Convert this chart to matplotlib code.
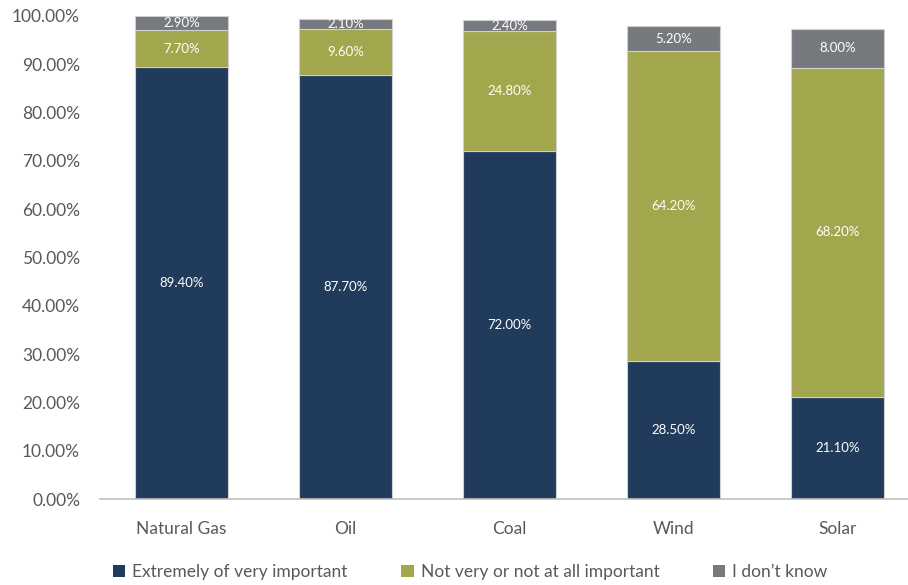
import matplotlib.pyplot as plt
from matplotlib.patches import Patch

# Survey results per energy source (percent)
sources = ["Natural Gas", "Oil", "Coal", "Wind", "Solar"]
important = [89.4, 87.7, 72.0, 28.5, 21.1]
not_important = [7.7, 9.6, 24.8, 64.2, 68.2]
dont_know = [2.9, 2.1, 2.4, 5.2, 8.0]

series_names = ["Extremely of very important", "Not very or not at all important", "I don\u2019t know"]
colors = ["#203B5B", "#A2A64C", "#767A7E"]

plt.rcParams["font.family"] = ["Lato", "DejaVu Sans"]

fig = plt.figure(figsize=[9.08, 5.85], dpi=100)
ax = fig.add_axes([99.5 / 908, 86 / 585, 808.5 / 908, 483 / 585])

x = range(len(sources))
bottoms = [0] * len(sources)
for values, color in zip([important, not_important, dont_know], colors):
    ax.bar(x, values, width=0.57, bottom=bottoms, color=color,
           edgecolor="#D0D0D0", linewidth=0.8)
    for xi, b, v in zip(x, bottoms, values):
        ax.text(xi, b + v / 2, "{:.2f}%".format(v), ha="center", va="center",
                color="white", fontsize=9.5)
    bottoms = [b + v for b, v in zip(bottoms, values)]

ax.set_xlim(-0.5, -0.5 + 808.5 / 164)
ax.set_ylim(0, 100)
ax.set_yticks(range(0, 101, 10))
ax.set_yticklabels(["{:.2f}%".format(t) for t in range(0, 101, 10)])
ax.set_xticks(list(x))
ax.set_xticklabels(sources)
ax.tick_params(axis="both", length=0, labelsize=12.5, colors="#595959")
ax.tick_params(axis="x", pad=16)
ax.tick_params(axis="y", pad=14)

for side in ["top", "right", "left"]:
    ax.spines[side].set_visible(False)
ax.spines["bottom"].set_color("#BFBFBF")
ax.spines["bottom"].set_linewidth(1.2)

# Legenda onder de grafiek
handles = [Patch(facecolor=c, edgecolor="none") for c in colors]
fig.legend(handles, series_names, loc="center", bbox_to_anchor=(0.518, 0.022),
           ncol=3, frameon=False, fontsize=12.5, handlelength=0.7, handleheight=0.7,
           handletextpad=0.4, columnspacing=3.1, labelcolor="#595959")

plt.savefig("out.png", dpi=100)
